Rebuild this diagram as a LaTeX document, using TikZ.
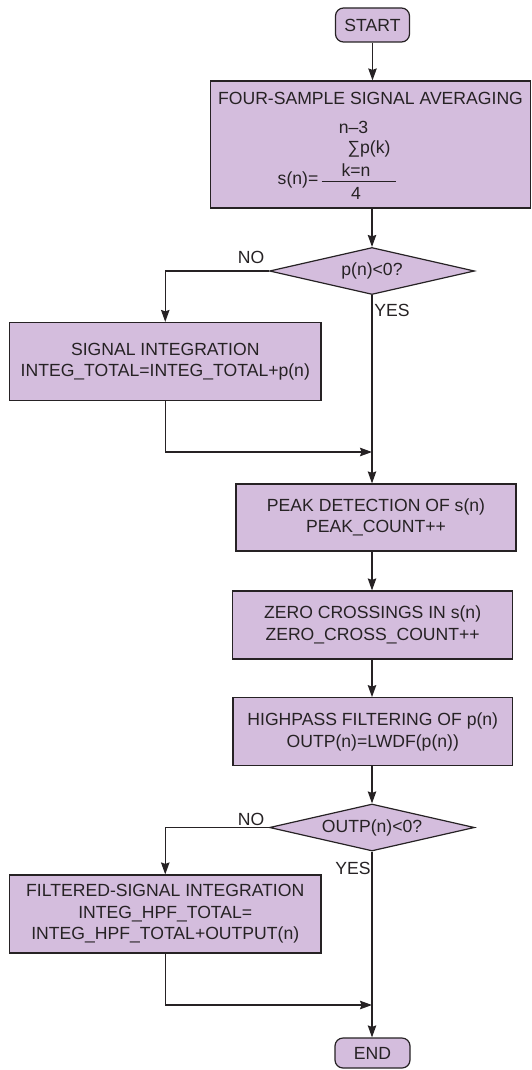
\documentclass[tikz,border=0pt]{standalone}
\usepackage{fontspec}
\setmainfont{Liberation Sans}
\usetikzlibrary{shapes.geometric,arrows.meta}

\definecolor{boxfill}{RGB}{212,189,221}
\definecolor{ink}{RGB}{38,34,36}

\newcommand{\flowfont}{\fontsize{17.6}{21.5}\selectfont}

\tikzset{
    txt/.style={font=\flowfont, text=ink, inner sep=0pt, align=center},
    block/.style={txt, draw=ink, fill=boxfill, line width=1.2pt},
    terminal/.style={block, rounded corners=8pt},
    decision/.style={block, diamond, aspect=4.4,
        minimum width=205pt, minimum height=47pt},
    flow/.style={draw=ink, line width=1.2pt, ->},
}

\begin{document}
\begin{tikzpicture}[x=1pt,y=-1pt,>={Stealth[length=12pt,width=8.5pt,inset=1.5pt]}]

    \useasboundingbox (0,0) rectangle (532,1070);

    \node[terminal, minimum width=74pt, minimum height=34pt]
        (start) at (372.5,25) {START};

    \node[block, minimum width=320pt, minimum height=127pt]
        (avg) at (370.25,144.5) {};

    \node[txt] (avgtitle) at (370.5,98) {FOUR-SAMPLE SIGNAL AVERAGING};
    \node[txt] (sumtop)  at (353.5,127.5) {n–3};
    \node[txt] (sumterm) at (369,149) {∑p(k)};
    \node[txt] (sumbot)  at (356,170) {k=n};
    \node[txt] (denom)   at (356,193) {4};
    \node[txt] (lhs)     at (298,179.5) {s(n)=};

    \draw[ink, line width=1pt] (321.7,181.5) -- (396,181.5);

    \node[decision] (test1) at (372,271) {p(n)<0?};

    \node[block, minimum width=311.5pt, minimum height=78pt]
        (integ) at (165.25,361.5)
        {SIGNAL INTEGRATION\\INTEG\_TOTAL=INTEG\_TOTAL+p(n)};

    \node[block, minimum width=280pt, minimum height=67pt]
        (peak) at (376,517.5)
        {PEAK DETECTION OF s(n)\\PEAK\_COUNT++};

    \node[block, minimum width=280pt, minimum height=68pt]
        (zero) at (372.6,625)
        {ZERO CROSSINGS IN s(n)\\ZERO\_CROSS\_COUNT++};

    \node[block, minimum width=279.5pt, minimum height=68pt]
        (hpf) at (372.75,731.7)
        {HIGHPASS FILTERING OF p(n)\\OUTP(n)=LWDF(p(n))};

    \node[decision] (test2) at (372,827.5) {OUTP(n)<0?};

    \node[block, minimum width=311.5pt, minimum height=78pt]
        (filt) at (165.25,914)
        {FILTERED-SIGNAL INTEGRATION\\INTEG\_HPF\_TOTAL=\\INTEG\_HPF\_TOTAL+OUTPUT(n)};

    \node[terminal, minimum width=75pt, minimum height=30pt]
        (stop) at (372.5,1053) {END};

    \node[txt] (no1)  at (251,257) {NO};
    \node[txt] (yes1) at (392,310) {YES};
    \node[txt] (no2)  at (251,819) {NO};
    \node[txt] (yes2) at (353,868) {YES};

    \coordinate (join1) at (372,452);
    \coordinate (join2) at (372,1005);

    \draw[flow] (start) -- (start |- avg.north);
    \draw[flow] (test1 |- avg.south) -- (test1.north);
    \draw[flow] (test1.west) -| (integ.north);
    \draw[flow] (integ.south) |- (join1);
    \draw[flow] (test1.south) -- (test1.south |- peak.north);
    \draw[flow] (test1 |- peak.south) -- (test1 |- zero.north);
    \draw[flow] (test1 |- zero.south) -- (test1 |- hpf.north);
    \draw[flow] (test2 |- hpf.south) -- (test2.north);
    \draw[flow] (test2.west) -| (filt.north);
    \draw[flow] (filt.south) |- (join2);
    \draw[flow] (test2.south) -- (test2.south |- stop.north);

\end{tikzpicture}
\end{document}
